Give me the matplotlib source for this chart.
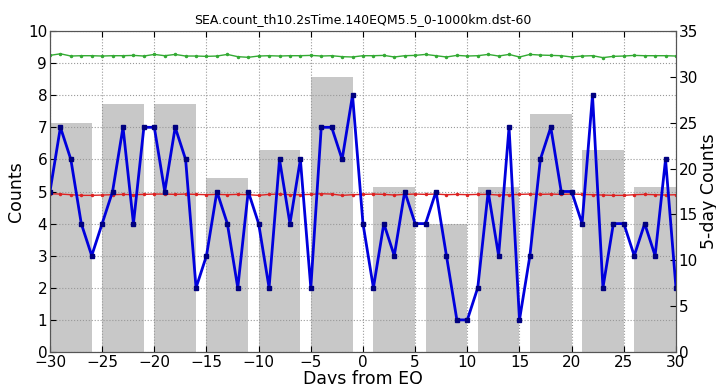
import numpy as np
import matplotlib
matplotlib.use("Agg")
import matplotlib.pyplot as plt

# dias relativos ao terremoto
dias = list(range(-30, 31))

# contagem diaria
contagens = [5, 7, 6, 4, 3, 4, 5, 7, 4, 7,
             7, 5, 7, 6, 2, 3, 5, 4, 2, 5,
             4, 2, 6, 4, 6, 2, 7, 7, 6, 8,
             4,
             2, 4, 3, 5, 4, 4, 5, 3, 1, 1,
             2, 5, 3, 7, 1, 3, 6, 7, 5, 5,
             4, 8, 2, 4, 4, 3, 4, 3, 6, 2]

# media e limite superior (nivel de referencia)
media = [4.93, 4.92, 4.90, 4.88, 4.88, 4.89, 4.90, 4.91, 4.90, 4.91,
         4.92, 4.92, 4.91, 4.92, 4.91, 4.90, 4.91, 4.90, 4.91, 4.90,
         4.88, 4.91, 4.92, 4.90, 4.90, 4.91, 4.93, 4.92, 4.88, 4.90,
         4.91,
         4.92, 4.91, 4.89, 4.91, 4.92, 4.91, 4.92, 4.90, 4.91, 4.90,
         4.91, 4.91, 4.89, 4.90, 4.91, 4.92, 4.91, 4.92, 4.91, 4.92,
         4.91, 4.90, 4.89, 4.88, 4.88, 4.90, 4.91, 4.90, 4.89, 4.90]

limite = [9.24, 9.29, 9.22, 9.23, 9.23, 9.22, 9.23, 9.23, 9.24, 9.22,
          9.27, 9.23, 9.27, 9.22, 9.22, 9.21, 9.22, 9.27, 9.20, 9.18,
          9.22, 9.23, 9.22, 9.23, 9.23, 9.24, 9.22, 9.23, 9.20, 9.19,
          9.23,
          9.23, 9.24, 9.19, 9.23, 9.24, 9.27, 9.23, 9.19, 9.24, 9.22,
          9.23, 9.27, 9.22, 9.27, 9.19, 9.27, 9.25, 9.24, 9.23, 9.19,
          9.22, 9.23, 9.17, 9.21, 9.22, 9.24, 9.23, 9.23, 9.23, 9.22]

# somas de 5 dias
inicio_blocos = [-30, -25, -20, -15, -10, -5, 1, 6, 11, 16, 21, 26]
soma_5dias = [25, 27, 27, 19, 22, 30, 18, 14, 18, 26, 22, 18]

plt.rcParams['font.family'] = 'DejaVu Sans'

fig = plt.figure(figsize=(7.16, 3.84), dpi=100)
ax1 = fig.add_axes([0.0698, 0.0833, 0.8743, 0.836])
ax2 = ax1.twinx()

# barras no eixo da direita, atras das linhas
ax2.bar(inicio_blocos, soma_5dias, width=4, align='edge', color='#c8c8c8',
        edgecolor='none', zorder=1)
ax2.set_ylim(0, 35)
ax2.set_yticks(range(0, 36, 5))
ax2.set_ylabel("5-day Counts", fontsize=12.5, labelpad=1)
ax2.tick_params(direction='in', labelsize=11, length=4, pad=2)

ax1.set_zorder(ax2.get_zorder() + 1)
ax1.patch.set_visible(False)

ax1.plot(dias, limite, '.-', color='#33aa33', lw=1, ms=3)
ax1.plot(dias, media, '.-', color='#dd2222', lw=1, ms=3)
ax1.plot(dias, contagens, 's-', color='#0000dd', lw=2, ms=3.5,
         mfc='#000080', mec='#000080')

ax1.set_xlim(-30, 30)
ax1.set_ylim(0, 10)
ax1.set_xticks(range(-30, 31, 5))
ax1.set_yticks(range(0, 11))
ax1.grid(True, linestyle=':', color='#999999', lw=0.8)
ax1.tick_params(direction='in', labelsize=11, length=4, top=True, pad=2)
ax1.set_ylabel("Counts", fontsize=12.5, labelpad=2)
ax1.set_xlabel("Days from EQ", fontsize=12.5, labelpad=0)
ax1.set_title("SEA.count_th10.2sTime.140EQM5.5_0-1000km.dst-60", fontsize=9)

for a in (ax1, ax2):
    for s in a.spines.values():
        s.set_color('#555555')

plt.savefig("out.png", dpi=100)
